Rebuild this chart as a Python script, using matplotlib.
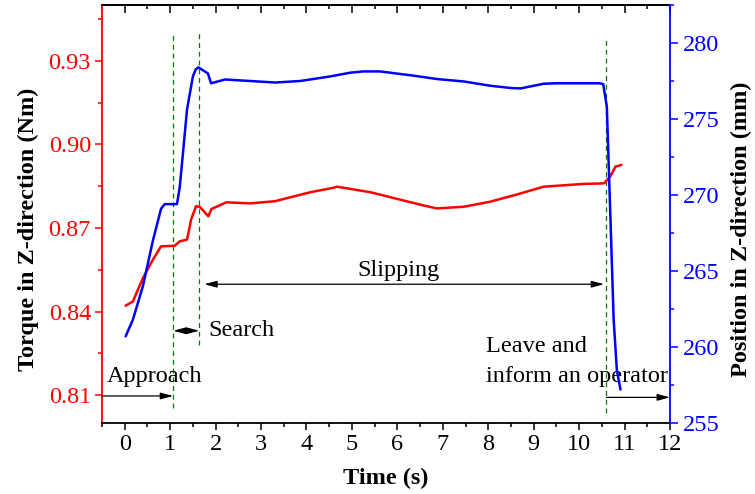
import matplotlib
matplotlib.use("Agg")
import matplotlib.pyplot as plt
from matplotlib.ticker import FixedLocator, MultipleLocator

plt.rcParams['font.family'] = ['Liberation Serif', 'DejaVu Serif']

# ---- data ----
pos_time = [0.02, 0.18, 0.40, 0.62, 0.80, 0.88, 1.15, 1.21, 1.28, 1.37, 1.50, 1.56, 1.62,
            1.83, 1.90, 2.21, 2.76, 3.31, 3.86, 4.52, 4.97, 5.25, 5.62, 6.36, 6.87,
            7.46, 8.04, 8.49, 8.71, 9.22, 9.50, 10.0, 10.45, 10.53, 10.61, 10.69,
            10.76, 10.83, 10.91]
position = [260.7, 261.8, 264.0, 267.0, 269.1, 269.4, 269.4, 270.5, 272.7, 275.6,
            277.8, 278.25, 278.4, 278.0, 277.35, 277.6, 277.5, 277.4, 277.5, 277.8, 278.05,
            278.13, 278.13, 277.85, 277.63, 277.47, 277.19, 277.04, 277.01, 277.32,
            277.35, 277.35, 277.35, 277.3, 275.8, 268.4, 261.8, 258.5, 257.2]

tq_time = [0.02, 0.18, 0.40, 0.62, 0.80, 1.10, 1.21, 1.37, 1.40, 1.46, 1.57, 1.65,
           1.84, 1.91, 2.24, 2.76, 3.31, 4.08, 4.59, 4.67, 4.97, 5.41, 6.00, 6.59,
           6.87, 7.46, 8.04, 8.63, 9.22, 10.10, 10.55, 10.69, 10.80, 10.93]
torque = [0.8421, 0.8436, 0.8520, 0.8586, 0.8634, 0.8636, 0.8652, 0.8658, 0.8680,
          0.8730, 0.8778, 0.8776, 0.8742, 0.8768, 0.8792, 0.8788, 0.8796, 0.8828,
          0.8844, 0.8848, 0.8840, 0.8828, 0.8804, 0.8780, 0.8770, 0.8776, 0.8794,
          0.8820, 0.8848, 0.8858, 0.8860, 0.8886, 0.8920, 0.8926]

time_ticks = list(range(0, 13))
torque_ticks = [0.81, 0.84, 0.87, 0.90, 0.93]
torque_tick_labels = ["0.81", "0.84", "0.87", "0.90", "0.93"]
position_ticks = [255, 260, 265, 270, 275, 280]

phase_lines = [1.066, 1.64, 10.6]          # dashed boundaries (s)
phase_line_spans = [(0.8053, 0.9403), (0.828, 0.9403), (0.8035, 0.9385)]

# ---- figure ----
fig = plt.figure(figsize=(7.55, 4.94), dpi=100)
ax = fig.add_axes([102/755, 71/494, 568/755, 418/494])
ax2 = ax.twinx()

RED = '#ff0000'
BLUE = '#0000ff'
FS = 17.5
TFS = 17.5

ax.plot(tq_time, torque, color=RED, lw=1.8, solid_capstyle='round', solid_joinstyle='round')
ax2.plot(pos_time, position, color=BLUE, lw=1.8, solid_capstyle='round', solid_joinstyle='round')

ax.set_xlim(-0.5, 12)
ax.set_ylim(0.80, 0.95)
ax2.set_ylim(255, 282.5)

ax.xaxis.set_major_locator(FixedLocator(time_ticks))
ax.xaxis.set_minor_locator(MultipleLocator(0.5))
ax.yaxis.set_major_locator(FixedLocator(torque_ticks))
ax.set_yticklabels(torque_tick_labels)
ax.yaxis.set_minor_locator(MultipleLocator(0.015))
ax2.yaxis.set_major_locator(FixedLocator(position_ticks))
ax2.yaxis.set_minor_locator(MultipleLocator(2.5))

ax.tick_params(axis='x', which='major', direction='out', length=5, width=1.1,
               labelsize=TFS, pad=3, colors='black')
ax.tick_params(axis='x', which='minor', direction='out', length=2.6, width=1.1)
ax.tick_params(axis='y', which='major', direction='out', length=5, width=1.1,
               labelsize=TFS, pad=3, colors=RED)
ax.tick_params(axis='y', which='minor', direction='out', length=2.8, width=1.1, colors=RED)
ax2.tick_params(axis='y', which='major', direction='out', length=6, width=1.1,
                labelsize=TFS, pad=3, colors=BLUE)
ax2.tick_params(axis='y', which='minor', direction='out', length=3, width=1.1, colors=BLUE)

# top ticks (inward)
sec = ax.secondary_xaxis('top')
sec.xaxis.set_major_locator(FixedLocator(time_ticks))
sec.xaxis.set_minor_locator(MultipleLocator(0.5))
sec.tick_params(axis='x', which='major', direction='in', length=5.5, width=1.1, labeltop=False)
sec.tick_params(axis='x', which='minor', direction='in', length=3, width=1.1)
sec.spines['top'].set_linewidth(1.3)

for s in ['left', 'right', 'top', 'bottom']:
    ax.spines[s].set_linewidth(1.3)
    ax2.spines[s].set_linewidth(1.3)
ax.spines['left'].set_color(RED)
ax.spines['right'].set_visible(False)
ax2.spines['left'].set_visible(False)
ax2.spines['top'].set_visible(False)
ax2.spines['bottom'].set_visible(False)
ax2.spines['right'].set_color(BLUE)

ax.set_xlabel('Time (s)', fontsize=FS, fontweight='bold', va='center')
ax.xaxis.set_label_coords(0.5, -0.1316)
ax.set_ylabel('Torque in Z-direction (Nm)', fontsize=FS, fontweight='bold',
              va='center', ha='center')
ax.yaxis.set_label_coords(-0.1303, 0.464)
ax2.set_ylabel('Position in Z-direction (mm)', fontsize=FS, fontweight='bold',
               va='center', ha='center', rotation=90)
ax2.yaxis.set_label_coords(1.1262, 0.464)

# phase boundaries
for x, (y0, y1) in zip(phase_lines, phase_line_spans):
    ax.plot([x, x], [y0, y1], color='#008000', lw=0.9, dashes=(4, 3), zorder=1)

arrow1 = dict(arrowstyle='-|>,head_length=0.75,head_width=0.2', color='black',
              lw=0.9, shrinkA=0, shrinkB=0, mutation_scale=10)
arrow2 = dict(arrowstyle='<|-|>,head_length=0.75,head_width=0.2', color='black',
              lw=0.9, shrinkA=0, shrinkB=0, mutation_scale=10)

ax.annotate('', xy=(1.066, 0.8097), xytext=(-0.5, 0.8097), arrowprops=arrow1,
            annotation_clip=False)
ax.annotate('', xy=(1.64, 0.8331), xytext=(1.066, 0.8331), arrowprops=arrow2)
ax.annotate('', xy=(10.55, 0.8498), xytext=(1.75, 0.8498), arrowprops=arrow2)
ax.annotate('', xy=(12.0, 0.8092), xytext=(10.6, 0.8092), arrowprops=arrow1,
            annotation_clip=False)

ax.text(-0.397, 0.8148, 'Approach', fontsize=FS, ha='left', va='baseline')
ax.text(1.84, 0.8331, 'Search', fontsize=FS, ha='left', va='center')
ax.text(6.02, 0.8526, 'Slipping', fontsize=FS, ha='center', va='baseline')
ax.text(7.95, 0.8256, 'Leave and', fontsize=FS, ha='left', va='baseline')
ax.text(7.95, 0.8148, 'inform an operator', fontsize=FS, ha='left', va='baseline')

fig.savefig('out.png', dpi=100)
